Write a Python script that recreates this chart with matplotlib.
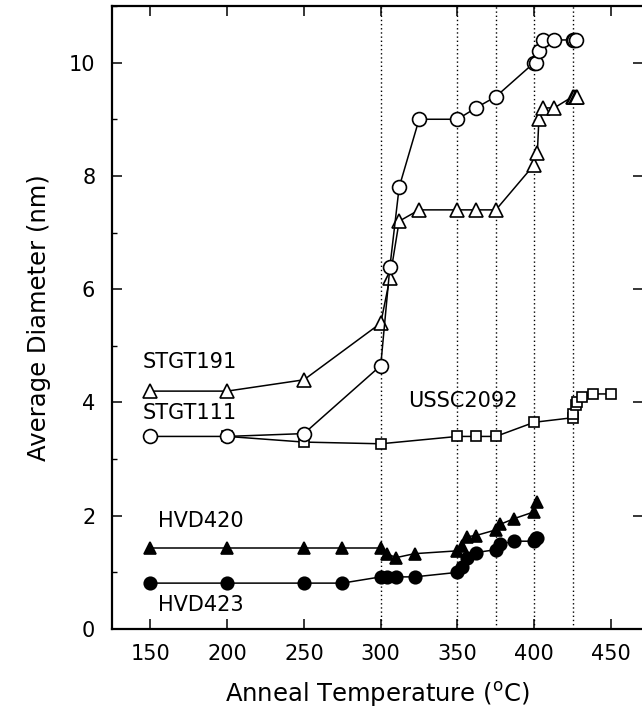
import matplotlib
matplotlib.use("Agg")
import matplotlib.pyplot as plt
from matplotlib.ticker import MultipleLocator

plt.rcParams['font.family'] = ['DejaVu Sans']
plt.rcParams['mathtext.fontset'] = 'dejavusans'

# STGT111 - open circles
t_111 = [150, 200, 250, 300, 306, 312, 325, 350, 362, 375, 400, 401, 403, 406, 413, 425, 426, 427]
d_111 = [3.4, 3.4, 3.45, 4.65, 6.4, 7.8, 9.0, 9.0, 9.2, 9.4, 10.0, 10.0, 10.2, 10.4, 10.4, 10.4, 10.4, 10.4]

# STGT191 - open triangles
t_191 = [150, 200, 250, 300, 306, 312, 325, 350, 362, 375, 400, 402, 403, 406, 413, 425, 426, 427, 428]
d_191 = [4.2, 4.2, 4.4, 5.4, 6.2, 7.2, 7.4, 7.4, 7.4, 7.4, 8.2, 8.4, 9.0, 9.2, 9.2, 9.4, 9.4, 9.4, 9.4]

# USSC2092 - open squares
t_ussc = [200, 250, 300, 350, 362, 375, 400, 425, 425.5, 427, 428, 431, 438, 450]
d_ussc = [3.4, 3.3, 3.27, 3.4, 3.4, 3.4, 3.65, 3.73, 3.8, 3.95, 4.0, 4.1, 4.15, 4.15]

# HVD420 - filled triangles
t_420 = [150, 200, 250, 275, 300, 304, 310, 322, 350, 353, 356, 362, 375, 378, 387, 400, 402]
d_420 = [1.43, 1.43, 1.43, 1.43, 1.43, 1.33, 1.26, 1.33, 1.38, 1.47, 1.63, 1.65, 1.75, 1.85, 1.95, 2.07, 2.25]

# HVD423 - filled circles
t_423 = [150, 200, 250, 275, 300, 304, 310, 322, 350, 353, 356, 362, 375, 378, 387, 400, 401, 402]
d_423 = [0.81, 0.81, 0.81, 0.81, 0.92, 0.92, 0.92, 0.92, 1.0, 1.1, 1.25, 1.35, 1.4, 1.5, 1.55, 1.55, 1.6, 1.6]

anneal_steps = [300, 350, 375, 400, 425]

fig = plt.figure(figsize=(6.42, 7.2), dpi=100)
ax = fig.add_axes([0.1745, 0.1264, 0.8275, 0.8653])

for t in anneal_steps:
    ax.axvline(t, color='black', linestyle=(0, (1, 2)), linewidth=1.0, zorder=1)

style = dict(color='black', linewidth=1.1, markeredgewidth=1.2)
# squares go underneath so the shared 200 C point hides behind the circle
ax.plot(t_ussc, d_ussc, marker='s', markersize=6.5, markerfacecolor='white', zorder=2, **style)
ax.plot(t_191, d_191, marker='^', markersize=9.5, markerfacecolor='white', zorder=3, **style)
ax.plot(t_111, d_111, marker='o', markersize=10, markerfacecolor='white', zorder=4, **style)
ax.plot(t_420, d_420, marker='^', markersize=8.5, markerfacecolor='black', zorder=3, **style)
ax.plot(t_423, d_423, marker='o', markersize=9, markerfacecolor='black', zorder=3, **style)

lbl = dict(fontsize=15, va='center', ha='left')
ax.text(145, 4.72, 'STGT191', **lbl)
ax.text(145, 3.82, 'STGT111', **lbl)
ax.text(318, 4.03, 'USSC2092', **lbl)
ax.text(155, 1.9, 'HVD420', **lbl)
ax.text(155, 0.42, 'HVD423', **lbl)

ax.set_xlim(125, 471)
ax.set_ylim(0, 11)
ax.xaxis.set_major_locator(MultipleLocator(50))
ax.yaxis.set_major_locator(MultipleLocator(2))
ax.yaxis.set_minor_locator(MultipleLocator(1))
ax.tick_params(axis='both', which='major', direction='in', length=7, width=1.1,
               top=True, right=True, labelsize=15)
ax.tick_params(axis='x', which='major', pad=11)
ax.tick_params(axis='y', which='major', pad=12)
ax.tick_params(axis='y', which='minor', direction='in', length=3.5, width=1, right=False)
for s in ax.spines.values():
    s.set_linewidth(1.6)

ax.set_xlabel(r'Anneal Temperature ($^{\mathrm{o}}$C)', fontsize=17.5, labelpad=11)
ax.set_ylabel('Average Diameter (nm)', fontsize=17.5, labelpad=13)

fig.savefig('out.png', dpi=100)
